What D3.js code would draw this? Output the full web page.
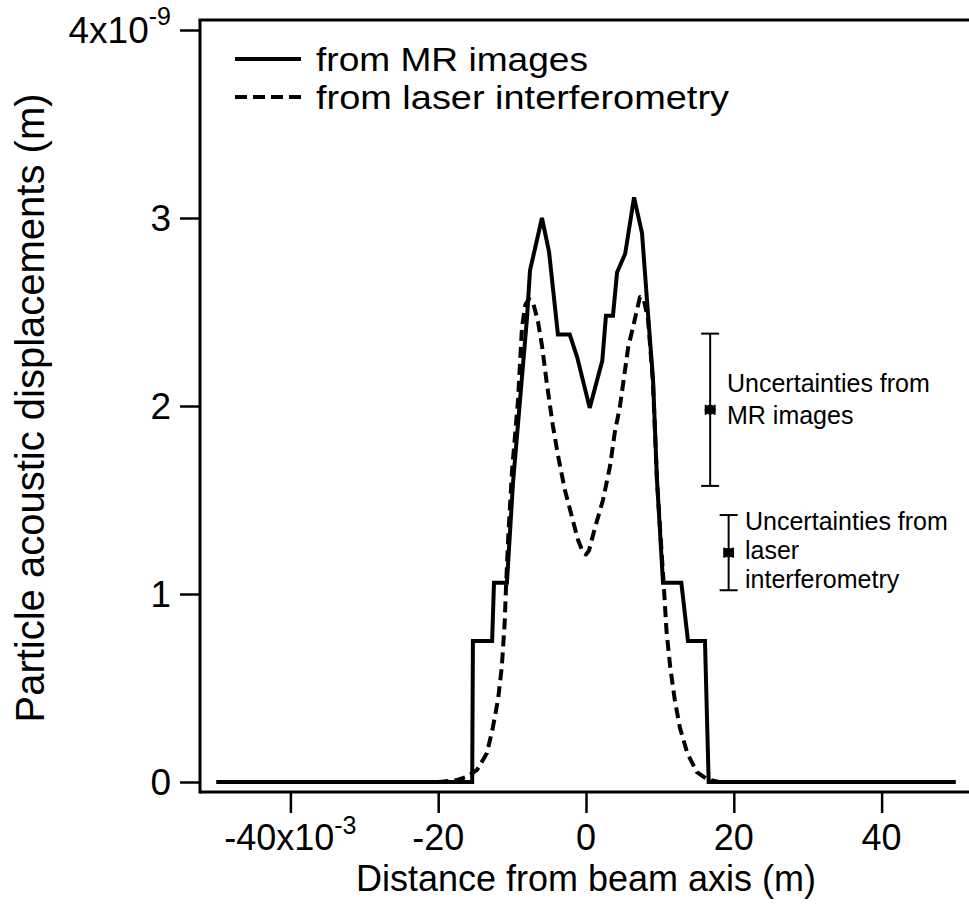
<!DOCTYPE html>
<html>
<head>
<meta charset="utf-8">
<script src="https://cdn.jsdelivr.net/npm/d3@7"></script>
<style>
  html, body { margin: 0; padding: 0; background: #fff; }
  svg { display: block; }
  text { font-family: "Liberation Sans", Arial, sans-serif; fill: #000; }
</style>
</head>
<body>
<svg id="chart" width="969" height="911"></svg>
<script>
// ---- data (x in 1e-3 m, y in 1e-9 m) ----
const mrX = [-50, -15.4, -15.3, -12.7, -12.45, -10.7, -9.88, -7.98, -7.58, -5.96, -5.0, -3.8, -2.2, -1.2, 0.5, 2.2, 2.7, 3.65, 4.2, 5.3, 6.5, 7.58, 8.39, 9.07, 9.6, 10.42, 12.9, 13.8, 16.1, 16.6, 50];
const mrY = [0, 0, 0.75, 0.75, 1.06, 1.06, 1.59, 2.47, 2.72, 3.0, 2.82, 2.38, 2.38, 2.26, 1.99, 2.24, 2.48, 2.48, 2.71, 2.81, 3.11, 2.92, 2.49, 2.14, 1.61, 1.06, 1.06, 0.75, 0.75, 0, 0];

const laserX = [-50, -20, -17.5, -16, -14.75, -13.4, -12.6, -11.9, -11.4, -11.0, -10.8, -10.5, -10.0, -9.2, -8.66, -8.2, -7.7, -7.1, -6.5, -5.95, -5.3, -4.5, -3.8, -2.9, -1.9, -1.1, -0.4, 0, 0.4, 1.2, 2.3, 3.25, 3.9, 4.6, 5.1, 5.7, 6.6, 7.3, 7.8, 8.4, 9.07, 9.6, 10.1, 10.5, 10.9, 11.4, 12.0, 12.7, 13.7, 15.0, 16.4, 18, 50];
const laserY = [0, 0, 0.01, 0.03, 0.064, 0.154, 0.29, 0.44, 0.61, 0.85, 1.06, 1.32, 1.66, 2.03, 2.42, 2.54, 2.57, 2.54, 2.45, 2.32, 2.12, 1.90, 1.74, 1.56, 1.41, 1.29, 1.22, 1.21, 1.23, 1.35, 1.5, 1.68, 1.86, 2.0, 2.14, 2.31, 2.46, 2.58, 2.57, 2.46, 2.12, 1.61, 1.3, 1.06, 0.8, 0.61, 0.44, 0.29, 0.154, 0.053, 0.015, 0, 0];

// uncertainty markers: [x, y, yErr, xErr]
const uncMR = [16.8, 1.98, 0.405, 0.6];
const uncLaser = [19.3, 1.22, 0.2, 0.6];

const xTicks = [-40, -20, 0, 20, 40];
const xTickLabels = ["-40x10", "-20", "0", "20", "40"];
const yTicks = [0, 1, 2, 3, 4];
const yTickLabels = ["0", "1", "2", "3", "4x10"];

const legendLabels = ["from MR images", "from laser interferometry"];
const xTitle = "Distance from beam axis (m)";
const yTitle = "Particle acoustic displacements (m)";
const annMR = ["Uncertainties from", "MR images"];
const annLaser = ["Uncertainties from", "laser", "interferometry"];

// ---- drawing ----
const svg = d3.select("#chart");
const x = d3.scaleLinear().domain([-52.23, 52.23]).range([200, 972]);
const y = d3.scaleLinear().domain([0, 4]).range([782, 30]);

const axisY = 792;   // x-axis line position
const axisX = 200;   // y-axis line position

// axis lines (offset frame)
svg.append("line").attr("x1", axisX).attr("x2", 969).attr("y1", axisY).attr("y2", axisY)
  .attr("stroke", "#000").attr("stroke-width", 3);
svg.append("line").attr("x1", axisX).attr("x2", axisX).attr("y1", 20).attr("y2", axisY + 1.5)
  .attr("stroke", "#000").attr("stroke-width", 3);
svg.append("line").attr("x1", axisX - 1.5).attr("x2", 969).attr("y1", 20).attr("y2", 20)
  .attr("stroke", "#000").attr("stroke-width", 3);

// x ticks
const xAxis = d3.axisBottom(x).tickValues(xTicks).tickSize(21).tickFormat("");
const gx = svg.append("g").attr("transform", `translate(0,${axisY})`).call(xAxis);
gx.select(".domain").remove();
gx.selectAll(".tick line").attr("stroke", "#000").attr("stroke-width", 2.5);

xTicks.forEach((t, i) => {
  const tx = svg.append("text").attr("x", x(t)).attr("y", 850)
    .attr("text-anchor", "middle").attr("font-size", 36);
  tx.append("tspan").text(xTickLabels[i]);
  if (i === 0) {
    tx.append("tspan").attr("dy", -16).attr("font-size", 25).text("-3");
  }
});

// y ticks
const yAxis = d3.axisLeft(y).tickValues(yTicks).tickSize(20).tickFormat("");
const gy = svg.append("g").attr("transform", `translate(${axisX},0)`).call(yAxis);
gy.select(".domain").remove();
gy.selectAll(".tick line").attr("stroke", "#000").attr("stroke-width", 2.5);

yTicks.forEach((t, i) => {
  if (i === yTicks.length - 1) {
    const tx = svg.append("text").attr("x", 171).attr("y", y(t) + 13)
      .attr("text-anchor", "end").attr("font-size", 37);
    tx.append("tspan").text(yTickLabels[i]);
    tx.append("tspan").attr("dy", -18).attr("font-size", 25).text("-9");
  } else {
    svg.append("text").attr("x", 171).attr("y", y(t) + 13)
      .attr("text-anchor", "end").attr("font-size", 37).text(yTickLabels[i]);
  }
});

// axis titles
svg.append("text").attr("x", 586).attr("y", 891).attr("text-anchor", "middle")
  .attr("font-size", 36).text(xTitle);
svg.append("text").attr("transform", "translate(44,408) rotate(-90)")
  .attr("text-anchor", "middle").attr("font-size", 40).text(yTitle);

// lines
const line = d3.line().x(d => x(d[0])).y(d => y(d[1]));
const mrData = mrX.map((v, i) => [v, mrY[i]]);
const laserData = laserX.map((v, i) => [v, laserY[i]]);

svg.append("path").datum(laserData).attr("d", line)
  .attr("fill", "none").attr("stroke", "#000").attr("stroke-width", 4)
  .attr("stroke-dasharray", "11,6").attr("stroke-linejoin", "round");
svg.append("path").datum(mrData).attr("d", line)
  .attr("fill", "none").attr("stroke", "#000").attr("stroke-width", 4)
  .attr("stroke-linejoin", "miter");

// uncertainty markers
function errBar(u, marker) {
  const [ux, uy, ey, ex] = u;
  const g = svg.append("g").attr("stroke", "#000").attr("stroke-width", 2);
  g.append("line").attr("x1", x(ux)).attr("x2", x(ux)).attr("y1", y(uy + ey)).attr("y2", y(uy - ey));
  [uy + ey, uy - ey].forEach(v => g.append("line")
    .attr("x1", x(ux) - 9).attr("x2", x(ux) + 9).attr("y1", y(v)).attr("y2", y(v)));
  g.append("line").attr("x1", x(ux - ex)).attr("x2", x(ux + ex)).attr("y1", y(uy)).attr("y2", y(uy));
  [ux - ex, ux + ex].forEach(v => g.append("line")
    .attr("x1", x(v)).attr("x2", x(v)).attr("y1", y(uy) - 5).attr("y2", y(uy) + 5));
  if (marker === "circle") {
    svg.append("ellipse").attr("cx", x(ux)).attr("cy", y(uy)).attr("rx", 5.5).attr("ry", 5)
      .attr("fill", "#000");
  } else {
    svg.append("rect").attr("x", x(ux) - 4.5).attr("y", y(uy) - 4.5)
      .attr("width", 9).attr("height", 9).attr("fill", "#000");
  }
}
errBar(uncMR, "circle");
errBar(uncLaser, "square");

annMR.forEach((s, i) => svg.append("text").attr("x", 727).attr("y", 392 + i * 32)
  .attr("font-size", 25).text(s));
annLaser.forEach((s, i) => svg.append("text").attr("x", 745).attr("y", 530 + i * 29)
  .attr("font-size", 25).text(s));

// legend
const legY = [59, 97];
const legW = [272, 413];
svg.append("line").attr("x1", 235).attr("x2", 301).attr("y1", legY[0]).attr("y2", legY[0])
  .attr("stroke", "#000").attr("stroke-width", 4);
svg.append("line").attr("x1", 235).attr("x2", 301).attr("y1", legY[1]).attr("y2", legY[1])
  .attr("stroke", "#000").attr("stroke-width", 4).attr("stroke-dasharray", "12,6");
legendLabels.forEach((s, i) => svg.append("text").attr("x", 316).attr("y", legY[i] + 12)
  .attr("font-size", 34).attr("textLength", legW[i]).attr("lengthAdjust", "spacingAndGlyphs")
  .text(s));
</script>
</body>
</html>
